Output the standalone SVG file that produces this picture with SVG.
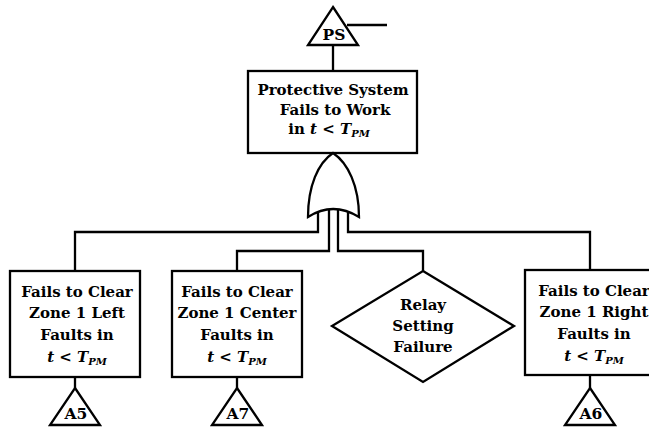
<svg xmlns="http://www.w3.org/2000/svg" width="649" height="429" viewBox="0 0 649 429">
  <style>
    .shape { fill: #fff; stroke: #000; stroke-width: 2.3; stroke-linejoin: miter; }
    .wire { fill: none; stroke: #000; stroke-width: 2.3; }
    .lbl { font-family: "DejaVu Serif", "Liberation Serif", serif; font-weight: bold; font-size: 15px; fill: #000; text-anchor: middle; }
    .tag { font-family: "DejaVu Serif", "Liberation Serif", serif; font-weight: bold; font-size: 15.5px; fill: #000; text-anchor: middle; }
    .it { font-style: italic; }
    .sub { font-style: italic; font-size: 10px; }
  </style>
  <rect width="649" height="429" fill="#fff"/>

  <!-- connectors -->
  <g id="connectors">
    <line class="wire" x1="333" y1="45" x2="333" y2="71"/>
    <line class="wire" x1="347" y1="25" x2="387" y2="25"/>
    <polyline class="wire" points="318,212 318,232 75,232 75,271"/>
    <polyline class="wire" points="329,209 329,251 237,251 237,271"/>
    <polyline class="wire" points="338,209 338,251 423,251 423,271"/>
    <polyline class="wire" points="348,212 348,232 590,232 590,270"/>
    <line class="wire" x1="75" y1="377" x2="75" y2="388"/>
    <line class="wire" x1="237" y1="377" x2="237" y2="388"/>
    <line class="wire" x1="590" y1="375" x2="590" y2="388"/>
  </g>

  <!-- transfer-in symbol at the top -->
  <g id="ps">
    <polygon class="shape" points="333,7 358,45 308,45"/>
    <text class="tag" x="334" y="40" font-weight="normal">PS</text>
  </g>

  <!-- top event -->
  <g id="top-event">
    <rect class="shape" x="248" y="71" width="169" height="82"/>
    <text class="lbl" x="333" y="95">Protective System</text>
    <text class="lbl" x="335" y="115">Fails to Work</text>
    <text class="lbl" x="329" y="134">in <tspan class="it">t</tspan> &lt; <tspan class="it">T</tspan><tspan class="sub" dy="3">PM</tspan></text>
  </g>

  <!-- OR gate -->
  <g id="or-gate">
    <path class="shape" d="M333,153 C318,163 308,186 308,217 Q333,201 359,217 C359,186 348,163 333,153 Z"/>
  </g>

  <!-- left branch -->
  <g id="left-zone">
    <rect class="shape" x="10" y="271" width="130" height="106"/>
    <text class="lbl" x="77" y="297">Fails to Clear</text>
    <text class="lbl" x="77" y="318">Zone 1 Left</text>
    <text class="lbl" x="77" y="340">Faults in</text>
    <text class="lbl" x="77" y="362"><tspan class="it">t</tspan> &lt; <tspan class="it">T</tspan><tspan class="sub" dy="3">PM</tspan></text>
  </g>
  <g id="a5">
    <polygon class="shape" points="75,388 100,425 50,425"/>
    <text class="tag" x="76" y="419">A5</text>
  </g>

  <!-- center branch -->
  <g id="center-zone">
    <rect class="shape" x="172" y="271" width="130" height="106"/>
    <text class="lbl" x="237" y="297">Fails to Clear</text>
    <text class="lbl" x="237" y="318">Zone 1 Center</text>
    <text class="lbl" x="237" y="340">Faults in</text>
    <text class="lbl" x="237" y="362"><tspan class="it">t</tspan> &lt; <tspan class="it">T</tspan><tspan class="sub" dy="3">PM</tspan></text>
  </g>
  <g id="a7">
    <polygon class="shape" points="237,388 262,425 212,425"/>
    <text class="tag" x="238" y="419">A7</text>
  </g>

  <!-- undeveloped event -->
  <g id="relay-setting">
    <polygon class="shape" points="423,271 514,326 423,382 332,326"/>
    <text class="lbl" x="423" y="310">Relay</text>
    <text class="lbl" x="423" y="331">Setting</text>
    <text class="lbl" x="423" y="352">Failure</text>
  </g>

  <!-- right branch -->
  <g id="right-zone">
    <rect class="shape" x="525" y="270" width="132" height="105"/>
    <text class="lbl" x="594" y="296">Fails to Clear</text>
    <text class="lbl" x="594" y="317">Zone 1 Right</text>
    <text class="lbl" x="594" y="339">Faults in</text>
    <text class="lbl" x="594" y="361"><tspan class="it">t</tspan> &lt; <tspan class="it">T</tspan><tspan class="sub" dy="3">PM</tspan></text>
  </g>
  <g id="a6">
    <polygon class="shape" points="590,388 615,425 565,425"/>
    <text class="tag" x="591" y="419">A6</text>
  </g>
</svg>
